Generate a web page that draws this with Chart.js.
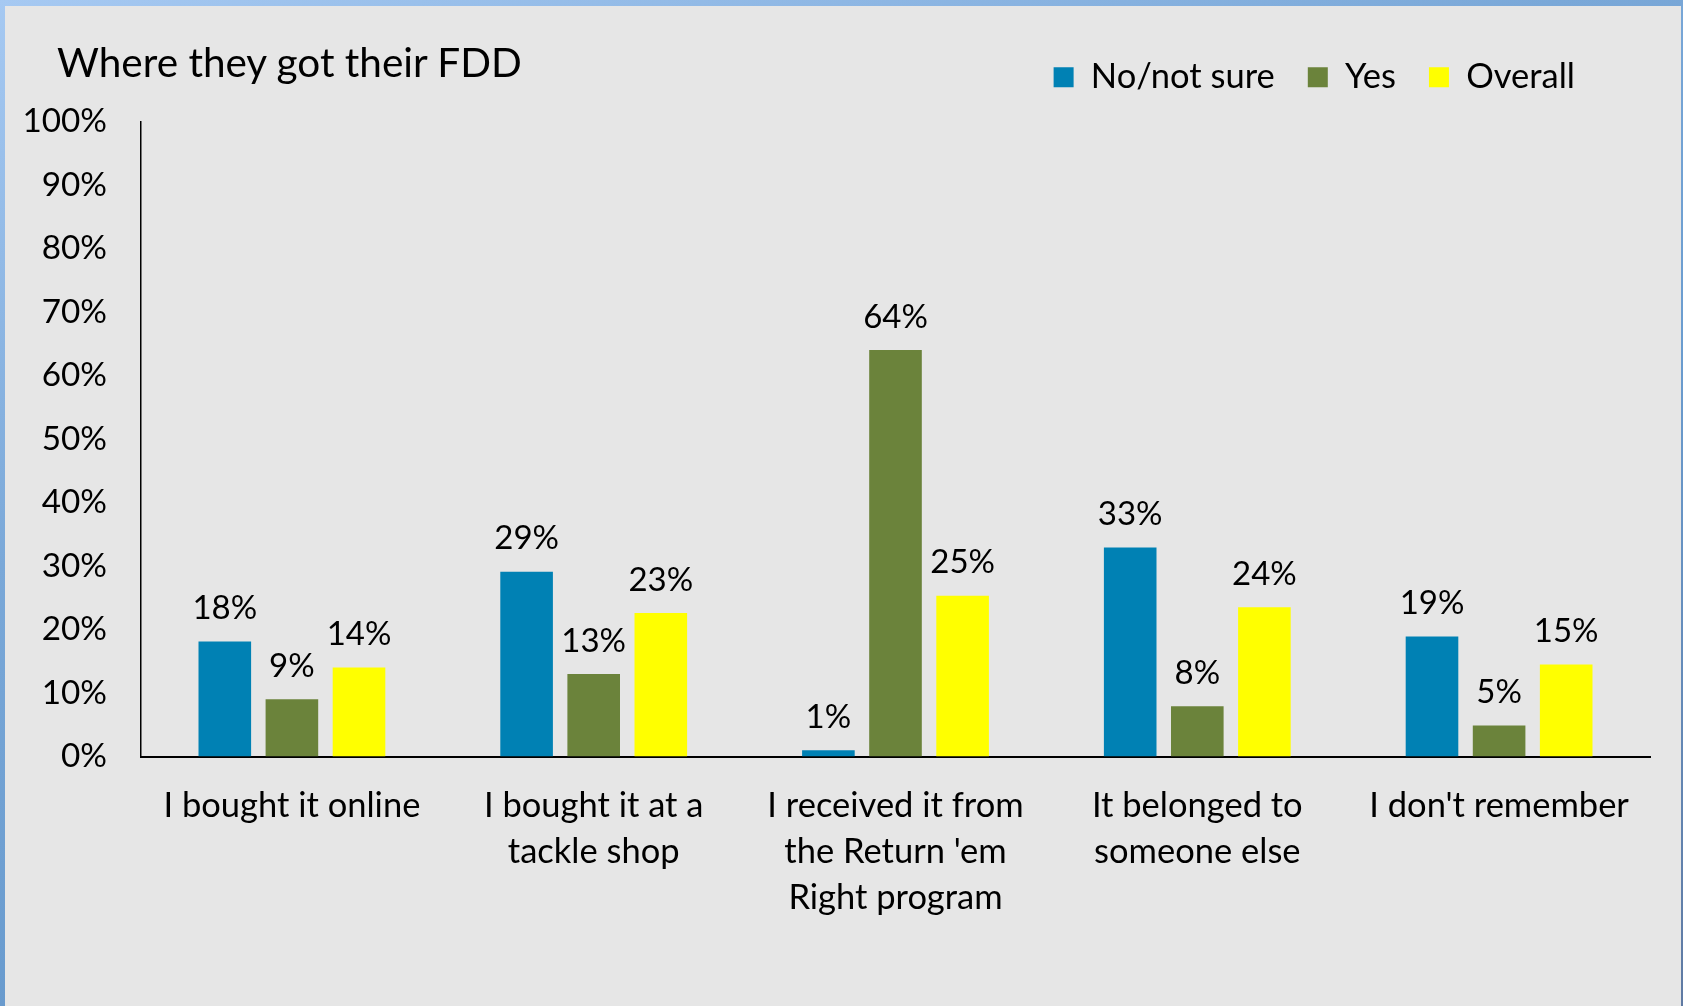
<!DOCTYPE html>
<html>
<head>
<meta charset="utf-8">
<script src="https://cdn.jsdelivr.net/npm/chart.js"></script>
<style>
	html, body {
		margin: 0;
		padding: 0;
		width: 1683px;
		height: 1006px;
		overflow: hidden;
		background: linear-gradient(160deg, #a6c9f2 0%, #7aa8d8 35%, #6a9ccf 60%, #5f7aa3 100%);
		font-family: Lato, "Noto Sans", sans-serif;
	}
	#panel {
		position: absolute;
		left: 5px;
		top: 6px;
		width: 1676px;
		height: 1000px;
		background: #e6e6e6;
	}
	#title {
		position: absolute;
		left: 52px;
		top: 36px;
		font-size: 40.5px;
		line-height: 40px;
		color: #000;
		white-space: nowrap;
	}
	canvas {
		position: absolute;
		left: 0;
		top: 0;
	}
</style>
</head>
<body>
<div id="panel">
	<canvas id="myChart" width="1676" height="1000"></canvas>
	<div id="title">Where they got their FDD</div>
</div>
<script>
// categories, one array per line of the axis label
const categories = [
	["I bought it online"],
	["I bought it at a", "tackle shop"],
	["I received it from", "the Return 'em", "Right program"],
	["It belonged to", "someone else"],
	["I don't remember"],
];

// values in percent
const noNotSure = [18.1, 29.1, 1.0, 32.9, 18.9];
const yes = [9.0, 13.0, 64.0, 7.9, 4.9];
const overall = [14.0, 22.6, 25.3, 23.5, 14.5];

const yTicks = [0, 10, 20, 30, 40, 50, 60, 70, 80, 90, 100];

const fontFamily = "Lato, 'Noto Sans', sans-serif";

// value labels over each bar
const barLabels = {
	id: "barLabels",
	afterDatasetsDraw(chart) {
		const ctx = chart.ctx;
		ctx.save();
		ctx.font = "33px " + fontFamily;
		ctx.fillStyle = "#000";
		ctx.textAlign = "center";
		ctx.textBaseline = "middle";
		chart.data.datasets.forEach((ds, i) => {
			const meta = chart.getDatasetMeta(i);
			meta.data.forEach((bar, j) => {
				ctx.fillText(Math.round(ds.data[j]) + "%", bar.x, bar.y - 33);
			});
		});
		ctx.restore();
	},
};

// put the legend on the title row, a bit in from the right
const legendShift = {
	id: "legendShift",
	afterLayout(chart) {
		const lg = chart.legend;
		const h = lg.height;
		lg.top = 21;
		lg.bottom = 21 + h;
		lg.right -= 42;
	},
};

new Chart("myChart", {
	type: "bar",
	data: {
		labels: categories,
		datasets: [
			{
				label: "No/not sure",
				data: noNotSure,
				backgroundColor: "#0081b4",
			},
			{
				label: "Yes",
				data: yes,
				backgroundColor: "#6b833b",
			},
			{
				label: "Overall",
				data: overall,
				backgroundColor: "#ffff00",
			},
		],
	},
	options: {
		responsive: false,
		animation: false,
		categoryPercentage: 0.667,
		barPercentage: 0.784,
		layout: {
			padding: { top: 38, right: 31, bottom: 0, left: 0 },
		},
		plugins: {
			title: { display: false },
			tooltip: { enabled: false },
			legend: {
				position: "top",
				align: "end",
				labels: {
					boxWidth: 20,
					boxHeight: 20,
					padding: 33,
					color: "#000",
					font: { family: fontFamily, size: 34.5 },
				},
			},
		},
		scales: {
			x: {
				grid: { display: false, drawTicks: false },
				border: { display: true, color: "#000", width: 2 },
				ticks: {
					color: "#000",
					padding: 26,
					maxRotation: 0,
					autoSkip: false,
					font: { family: fontFamily, size: 34.5, lineHeight: 1.333 },
				},
				afterFit(scale) {
					scale.height = 249.5;
				},
			},
			y: {
				min: 0,
				max: 100,
				grid: { display: false, drawTicks: false },
				border: { display: true, color: "#000", width: 1.5 },
				afterBuildTicks(scale) {
					scale.ticks = yTicks.map((v) => ({ value: v }));
				},
				ticks: {
					color: "#000",
					padding: 34,
					font: { family: fontFamily, size: 33.3 },
					callback: (v) => v + "%",
				},
				afterFit(scale) {
					scale.width = 136;
				},
			},
		},
	},
	plugins: [barLabels, legendShift],
});
</script>
</body>
</html>
